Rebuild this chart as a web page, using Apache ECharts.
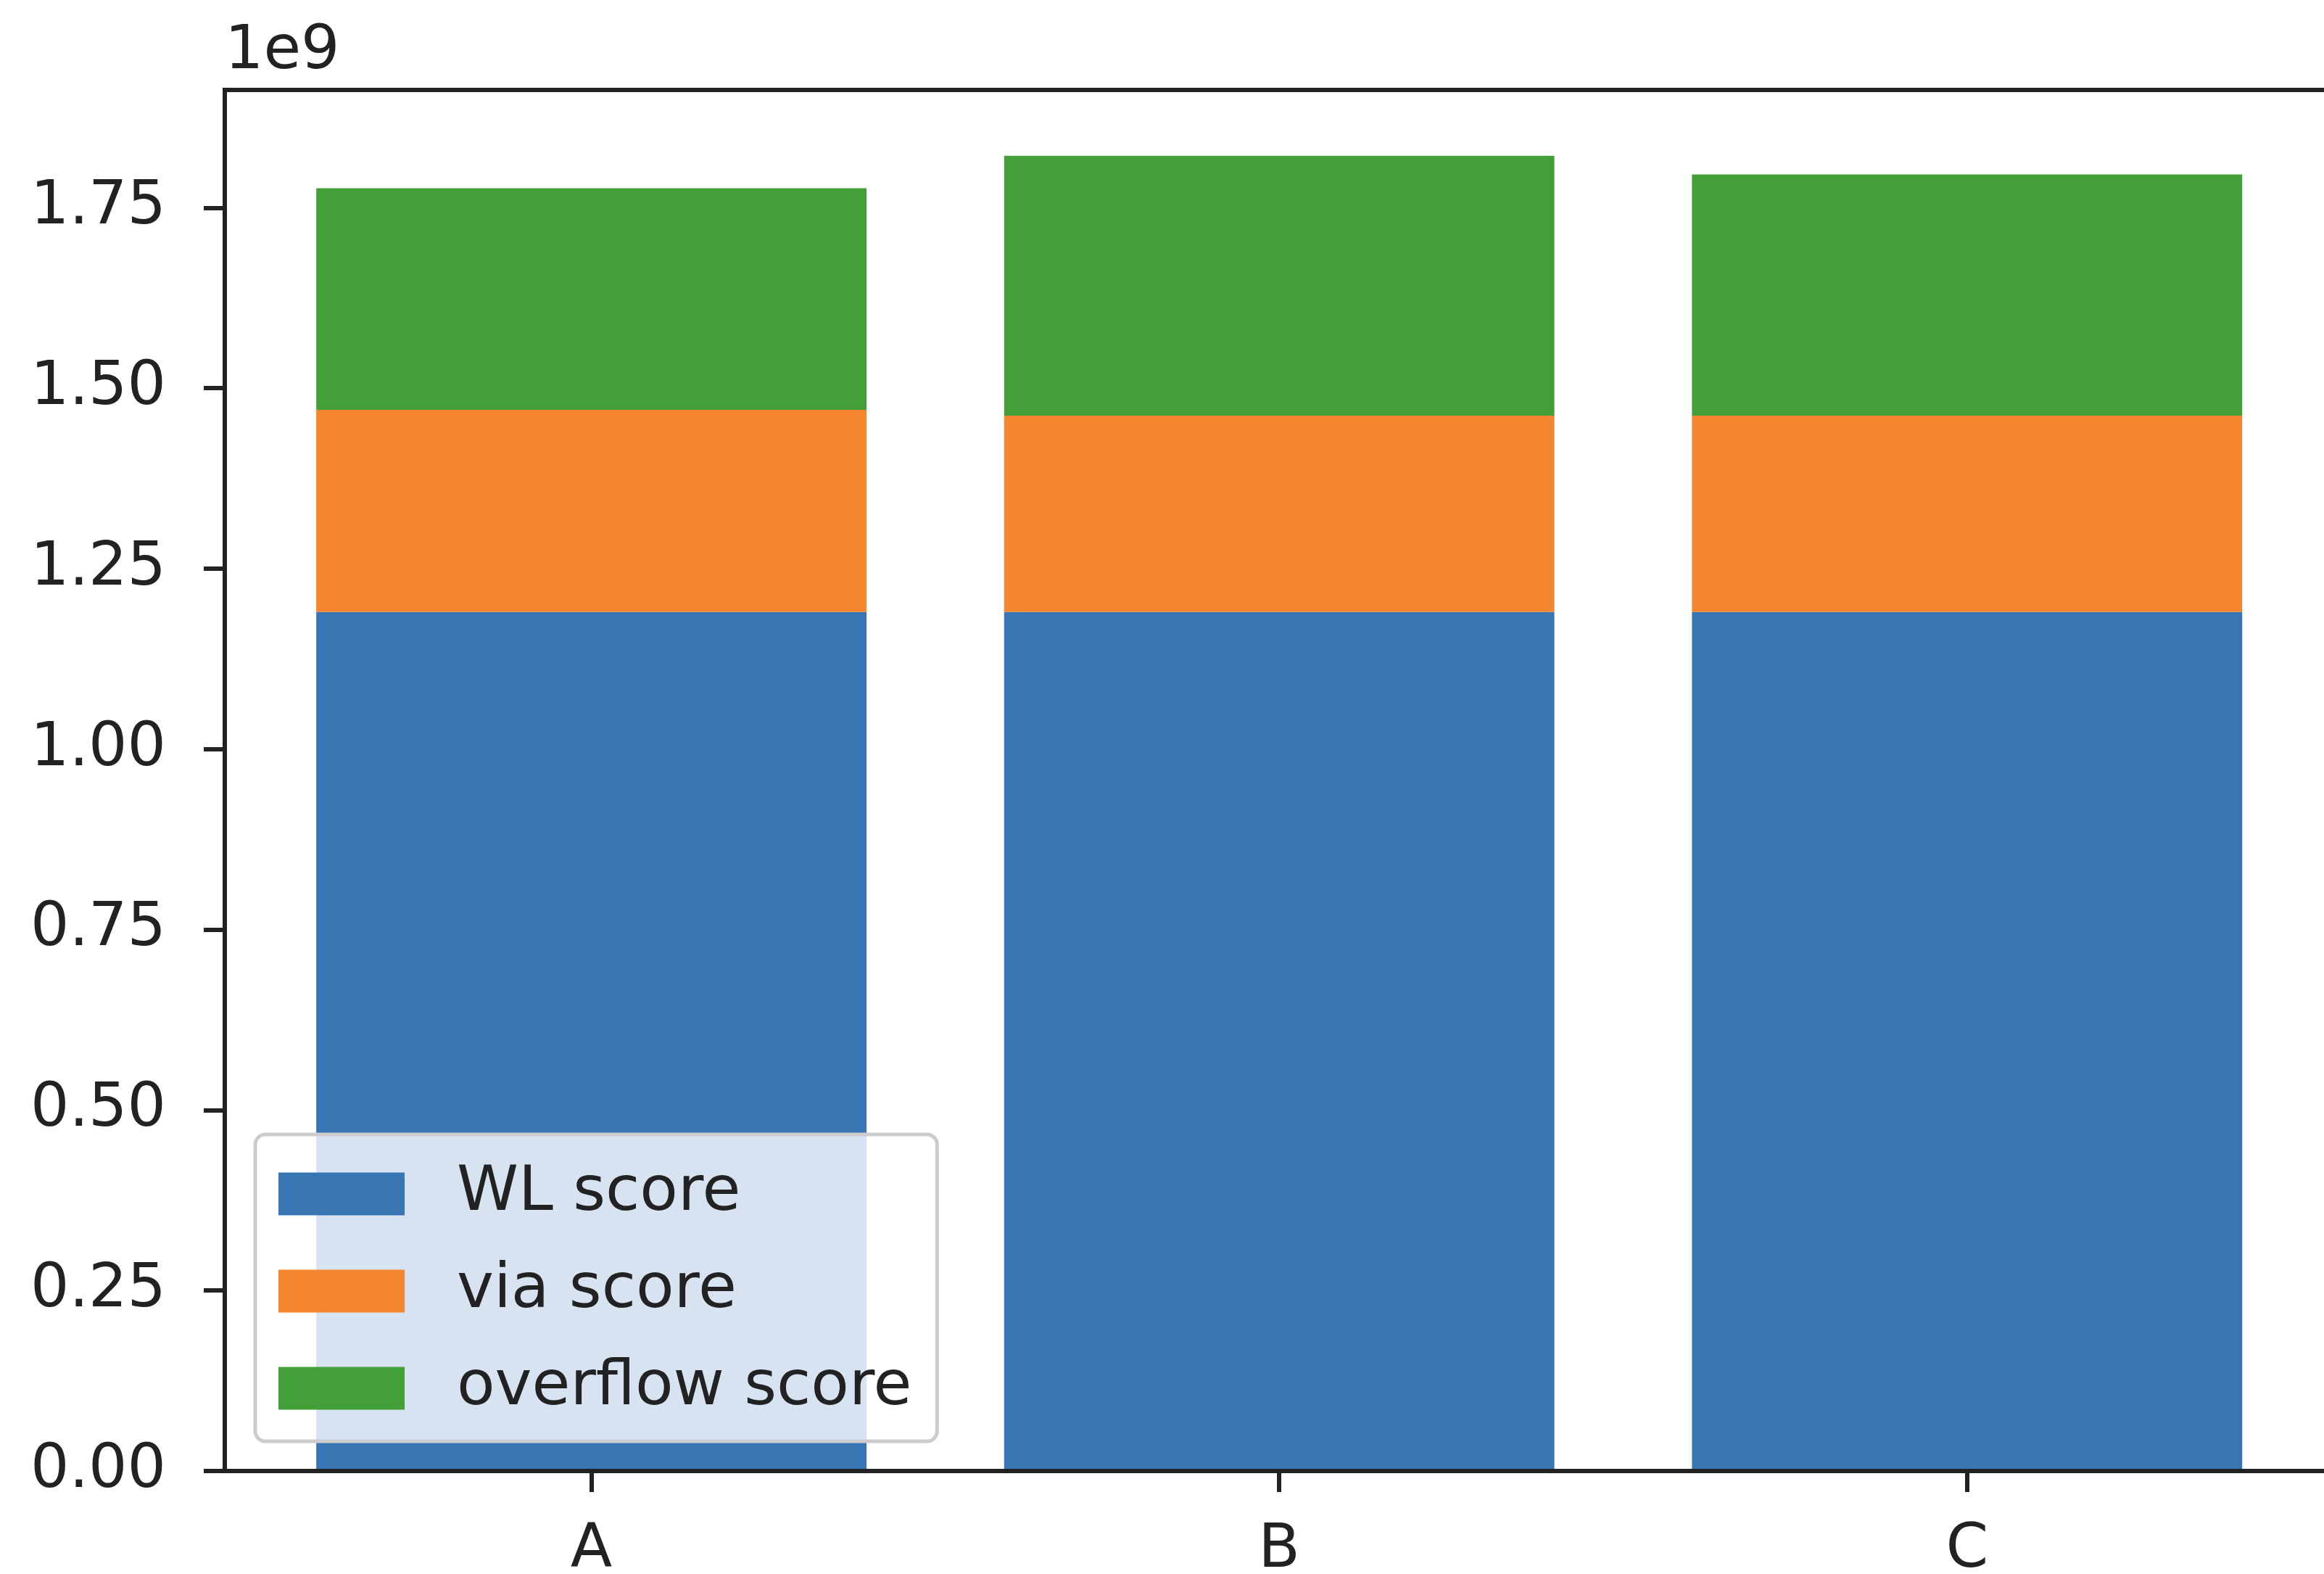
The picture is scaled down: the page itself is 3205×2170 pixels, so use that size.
<!DOCTYPE html>
<html>
<head>
<meta charset="utf-8">
<title>Score breakdown</title>
<script src="https://cdn.jsdelivr.net/npm/echarts@6/dist/echarts.min.js"></script>
<style>
  html, body { margin: 0; padding: 0; background: #ffffff; overflow: hidden; }
  #chart { width: 3205px; height: 2170px; }
</style>
</head>
<body>
<div id="chart"></div>
<script>
// Category names and the stacked score components
const categories = ['A', 'B', 'C'];
const wlScore = [1.190e9, 1.190e9, 1.190e9];
const viaScore = [0.280e9, 0.272e9, 0.272e9];
const overflowScore = [0.307e9, 0.360e9, 0.334e9];
const seriesNames = ['WL score', 'via score', 'overflow score'];
const seriesColors = ['#3776b2', '#f3862e', '#43a039'];

// Axis ticks
const xTicks = [0, 1, 2];
const yTicks = [0, 0.25e9, 0.5e9, 0.75e9, 1.0e9, 1.25e9, 1.5e9, 1.75e9];

// Value range with a 5% headroom over the tallest stack
const totals = categories.map((_, i) => wlScore[i] + viaScore[i] + overflowScore[i]);
const yMax = Math.max(...totals) * 1.05;

const FONT = 'DejaVu Sans';
const INK = '#222222';

// Rows are [score, position]; the score comes first so it is the stacked dimension
function asRows(values) {
  return values.map((v, i) => [v, xTicks[i]]);
}

const chart = echarts.init(document.getElementById('chart'), null, { renderer: 'canvas' });

chart.setOption({
  animation: false,
  backgroundColor: '#ffffff',
  textStyle: { fontFamily: FONT },
  grid: {
    left: 310,
    top: 124,
    width: 2915,
    bottom: 142,
    outerBoundsMode: 'none',
    containLabel: false,
    show: true,
    backgroundColor: 'transparent',
    borderColor: INK,
    borderWidth: 6
  },
  legend: {
    data: seriesNames,
    orient: 'vertical',
    left: 352,
    top: 1564,
    padding: [39, 35, 30, 32],
    itemWidth: 174,
    itemHeight: 59,
    itemGap: 48,
    icon: 'rect',
    selectedMode: false,
    backgroundColor: 'rgba(255,255,255,0.8)',
    borderColor: '#cccccc',
    borderWidth: 5,
    borderRadius: 14,
    textStyle: {
      fontFamily: FONT,
      fontSize: 86,
      lineHeight: 84,
      color: INK,
      padding: [0, 0, 0, 67]
    }
  },
  xAxis: {
    type: 'value',
    min: -0.533,
    max: 2.54,
    z: 5,
    splitLine: { show: false },
    axisLine: { show: true, onZero: false, lineStyle: { color: INK, width: 6 } },
    axisTick: {
      show: true,
      customValues: xTicks,
      length: 29,
      lineStyle: { color: INK, width: 6 }
    },
    axisLabel: {
      customValues: xTicks,
      formatter: (v) => categories[Math.round(v)] || '',
      fontFamily: FONT,
      fontSize: 84,
      color: INK,
      margin: 68
    }
  },
  yAxis: {
    type: 'value',
    min: 0,
    max: yMax,
    name: '1e9',
    nameLocation: 'end',
    nameGap: 52,
    nameTextStyle: {
      fontFamily: FONT,
      fontSize: 84,
      color: INK,
      align: 'left',
      verticalAlign: 'middle'
    },
    splitLine: { show: false },
    axisLine: { show: true, onZero: false, lineStyle: { color: INK, width: 6 } },
    axisTick: {
      show: true,
      customValues: yTicks,
      length: 29,
      lineStyle: { color: INK, width: 6 }
    },
    axisLabel: {
      customValues: yTicks,
      formatter: (v) => (v / 1e9).toFixed(2),
      fontFamily: FONT,
      fontSize: 84,
      color: INK,
      margin: 81
    }
  },
  series: [wlScore, viaScore, overflowScore].map((values, k) => ({
    name: seriesNames[k],
    type: 'bar',
    stack: 'total',
    barWidth: '80%',
    encode: { x: 1, y: 0 },
    itemStyle: { color: seriesColors[k] },
    emphasis: { disabled: true },
    data: asRows(values)
  }))
});
</script>
</body>
</html>
